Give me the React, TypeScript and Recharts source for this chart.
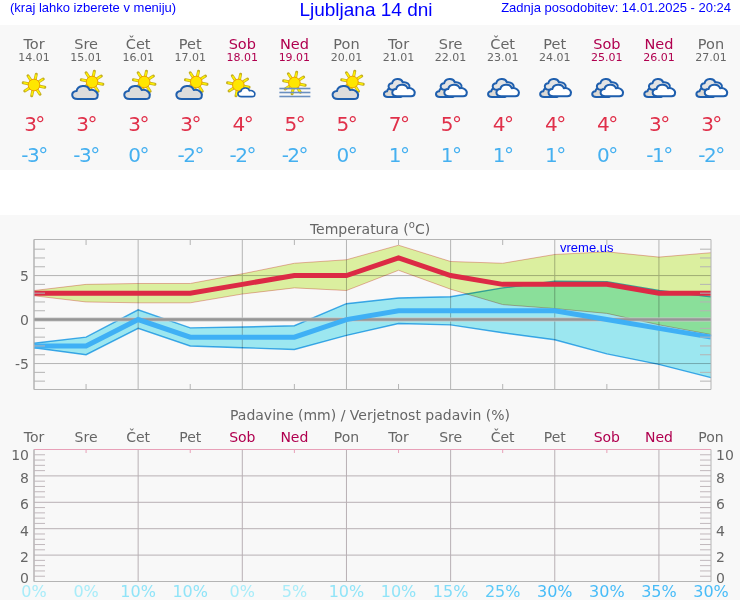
import { Area, CartesianGrid, ComposedChart, LineChart, Line, ReferenceLine, XAxis, YAxis } from 'recharts';

const days = ['Tor', 'Sre', 'Čet', 'Pet', 'Sob', 'Ned', 'Pon', 'Tor', 'Sre', 'Čet', 'Pet', 'Sob', 'Ned', 'Pon'];
const dates = ['14.01', '15.01', '16.01', '17.01', '18.01', '19.01', '20.01', '21.01', '22.01', '23.01', '24.01', '25.01', '26.01', '27.01'];
const icons = ['sun', 'cloudsun', 'cloudsun', 'cloudsun', 'suncloud', 'fog', 'cloudsun', 'clouds', 'clouds', 'clouds', 'clouds', 'clouds', 'clouds', 'clouds'];
const tempMax = [3, 3, 3, 3, 4, 5, 5, 7, 5, 4, 4, 4, 3, 3];
const tempMin = [-3, -3, 0, -2, -2, -2, 0, 1, 1, 1, 1, 0, -1, -2];
const maxHigh = [3.3, 4, 4.1, 4.1, 5.2, 6.4, 6.8, 8.45, 6.6, 6.4, 7.4, 7.7, 7.1, 7.6];
const maxLow = [2.7, 2, 1.9, 1.9, 2.9, 3.6, 3.3, 5.6, 3.45, 1.7, 1.25, 0.7, -0.6, -1.7];
const minHigh = [-2.7, -2, 1.1, -0.95, -0.85, -0.7, 1.8, 2.45, 2.6, 3.6, 4.35, 4.3, 3.3, 2.6];
const minLow = [-3.2, -4, -1, -3, -3.2, -3.4, -1.8, -0.45, -0.6, -1.5, -2.3, -3.9, -5.1, -6.6];
const rain = [0, 0, 0, 0, 0, 0, 0, 0, 0, 0, 0, 0, 0, 0];
const rainChance = [0, 0, 10, 10, 0, 5, 10, 10, 15, 25, 30, 30, 35, 30];

const tempTicks = [-7, -6, -5, -4, -3, -2, -1, 0, 1, 2, 3, 4, 5, 6, 7, 8];
const tempLabels = [-5, 0, 5];
const rainTicks = [0, 0.4, 0.8, 1.2, 1.6, 2, 2.4, 2.8, 3.2, 3.6, 4, 4.4, 4.8, 5.2, 5.6, 6, 6.4, 6.8, 7.2, 7.6, 8, 8.4, 8.8, 9.2, 9.6, 10];
const rainLabels = [0, 2, 4, 6, 8, 10];

const tempData = dates.map((date, i) => ({
  date,
  max: tempMax[i],
  min: tempMin[i],
  maxBand: [maxLow[i], maxHigh[i]],
  minBand: [minLow[i], minHigh[i]],
}));
const rainData = dates.map((date, i) => ({ date, rain: rain[i] }));

const WIDTH = 740;
const HEIGHT = 600;
const FONT = '"DejaVu Sans", sans-serif';
const ARIAL = '"Liberation Sans", Arial, sans-serif';
const GREY = '#666666';
const GRID = '#b4b4b4';
const WEEKEND = '#b0004f';
const RED = '#dc2a45';
const BLUE = '#3fb0f5';

const dayColor = (i: number) => (days[i] === 'Sob' || days[i] === 'Ned' ? WEEKEND : GREY);

const chanceColor = (v: number) => {
  if (v <= 5) return '#a8ecf9';
  if (v <= 10) return '#90e4f8';
  if (v <= 15) return '#80dcf8';
  if (v <= 25) return '#5ccaf8';
  return '#48bcf8';
};

function Sun({ cx, cy, r }: { cx: number; cy: number; r: number }) {
  const rays = [0, 45, 90, 135, 180, 225, 270, 315];
  return (
    <g>
      {rays.map((a) => (
        <line
          key={a}
          x1={cx}
          y1={cy - r}
          x2={cx}
          y2={cy - r * 1.9}
          stroke="#c4ae20"
          strokeWidth={3}
          strokeLinecap="round"
          transform={`rotate(${a + 12} ${cx} ${cy})`}
        />
      ))}
      {rays.map((a) => (
        <line
          key={a}
          x1={cx}
          y1={cy - r}
          x2={cx}
          y2={cy - r * 1.85}
          stroke="#fff200"
          strokeWidth={1.6}
          transform={`rotate(${a + 12} ${cx} ${cy})`}
        />
      ))}
      <circle cx={cx} cy={cy} r={r} fill="#ffe600" stroke="#f0a000" strokeWidth={1} />
    </g>
  );
}

function Cloud({ x, y, scale, fill, width = 2 }: { x: number; y: number; scale: number; fill: string; width?: number }) {
  return (
    <path
      transform={`translate(${x} ${y}) scale(${scale})`}
      d="M-8 7 C-15 7 -15 -1 -9 -1 C-8 -7 2 -8 4 -2 C9 -3 13 1 12 4 C12 6 10 7 8 7 Z"
      fill={fill}
      stroke="#1f5fae"
      strokeWidth={width / scale}
      strokeLinejoin="round"
    />
  );
}

function WeatherIcon({ kind, x }: { kind: string; x: number }) {
  if (kind === 'sun') return <Sun cx={x} cy={85} r={5.8} />;
  if (kind === 'cloudsun') {
    return (
      <g>
        <Sun cx={x + 6} cy={82} r={5.8} />
        <Cloud x={x - 0.5} y={92} scale={1} fill="#dcdcdc" />
      </g>
    );
  }
  if (kind === 'suncloud') {
    return (
      <g>
        <Sun cx={x - 4} cy={85} r={5.8} />
        <Cloud x={x + 4.5} y={92} scale={0.66} fill="#ffffff" width={1.6} />
      </g>
    );
  }
  if (kind === 'fog') {
    return (
      <g>
        <Sun cx={x} cy={83} r={5.8} />
        {[88.5, 92.5, 96.5].map((y) => (
          <line key={y} x1={x - 15} x2={x + 16} y1={y} y2={y} stroke="#6a8fc0" strokeWidth={1.6} />
        ))}
      </g>
    );
  }
  return (
    <g>
      <Cloud x={x - 5} y={92} scale={0.72} fill="#dedad4" />
      <Cloud x={x + 1} y={84} scale={0.82} fill="#e4e4e4" />
      <Cloud x={x + 5.5} y={90} scale={0.88} fill="#ffffff" />
    </g>
  );
}

function HeaderTick(props: any) {
  const { x, index } = props;
  return (
    <g fontFamily={FONT} textAnchor="middle">
      <text x={x} y={48.5} fontSize={14.5} fill={dayColor(index)}>{days[index]}</text>
      <text x={x} y={60.5} fontSize={11} fill={dayColor(index)}>{dates[index]}</text>
      <WeatherIcon kind={icons[index]} x={x} />
      <text x={x} y={131} fontSize={20} letterSpacing={-1.5} fill="#e0304a">{tempMax[index]}°</text>
      <text x={x} y={162} fontSize={20} letterSpacing={-1.5} fill="#45b0f0">{tempMin[index]}°</text>
    </g>
  );
}

function TempLeftTick(props: any) {
  const { y, payload } = props;
  const major = tempLabels.includes(payload.value);
  return (
    <g>
      {!major && <line x1={34} x2={45} y1={y} y2={y} stroke={GRID} />}
      {major && (
        <text x={29} y={y + 5} textAnchor="end" fontFamily={FONT} fontSize={14} fill={GREY}>
          {payload.value}
        </text>
      )}
    </g>
  );
}

function TempRightTick(props: any) {
  const { y, payload } = props;
  if (tempLabels.includes(payload.value)) return <g />;
  return <line x1={700} x2={711} y1={y} y2={y} stroke={GRID} />;
}

function RainLeftTick(props: any) {
  const { y, payload } = props;
  const v = payload.value;
  const dy = v === 10 ? 10.5 : v === 0 ? 1 : 7;
  return (
    <g>
      {v !== 0 && v !== 10 && v % 2 !== 0 && <line x1={34} x2={45} y1={y} y2={y} stroke="#c0b8bc" />}
      {rainLabels.includes(v) && (
        <text x={29} y={y + dy} textAnchor="end" fontFamily={FONT} fontSize={14} fill={GREY}>
          {v}
        </text>
      )}
    </g>
  );
}

function RainRightTick(props: any) {
  const { y, payload } = props;
  const v = payload.value;
  const dy = v === 10 ? 10.5 : v === 0 ? 1 : 7;
  return (
    <g>
      {v !== 0 && v !== 10 && v % 2 !== 0 && <line x1={700} x2={711} y1={y} y2={y} stroke="#c0b8bc" />}
      {rainLabels.includes(v) && (
        <text x={716} y={y + dy} fontFamily={FONT} fontSize={14} fill={GREY}>
          {v}
        </text>
      )}
    </g>
  );
}

const oddTick = (y1: number, y2: number, color: string) => (props: any) => {
  const { x, index } = props;
  if (index % 2 === 0 || index === 13) return <g />;
  return <line x1={x} x2={x} y1={y1} y2={y2} stroke={color} />;
};

function RainTopTick(props: any) {
  const { x, index } = props;
  return (
    <g>
      {index % 2 === 1 && index !== 13 && <line x1={x} x2={x} y1={450} y2={453} stroke="#e8a0b8" />}
      <text x={x} y={442} textAnchor="middle" fontFamily={FONT} fontSize={14} fill={dayColor(index)}>
        {days[index]}
      </text>
    </g>
  );
}

function RainBottomTick(props: any) {
  const { x, index } = props;
  const v = rainChance[index];
  return (
    <text x={x} y={597} textAnchor="middle" fontFamily={FONT} fontSize={16} fill={chanceColor(v)}>
      {v}%
    </text>
  );
}

const blend = { mixBlendMode: 'multiply' as const };

export default function App() {
  return (
    <div style={{ position: 'absolute', left: 0, top: 0, width: WIDTH, height: HEIGHT, background: '#ffffff', overflow: 'hidden' }}>
      <div style={{ position: 'absolute', left: 0, top: 25, width: WIDTH, height: 145, background: '#f8f8f8' }} />
      <div style={{ position: 'absolute', left: 0, top: 215, width: WIDTH, height: 385, background: '#f8f8f8' }} />

      <div style={{ position: 'absolute', left: 10, top: 0, fontFamily: ARIAL, fontSize: 13, lineHeight: '15px', color: '#0000ff', whiteSpace: 'nowrap' }}>
        (kraj lahko izberete v meniju)
      </div>
      <div style={{ position: 'absolute', left: 0, width: 732, top: -1, textAlign: 'center', fontFamily: ARIAL, fontSize: 19, lineHeight: '21px', color: '#0000ff', whiteSpace: 'nowrap' }}>
        Ljubljana 14 dni
      </div>
      <div style={{ position: 'absolute', right: 9, top: 0, fontFamily: ARIAL, fontSize: 13, lineHeight: '15px', color: '#0000ff', whiteSpace: 'nowrap' }}>
        Zadnja posodobitev: 14.01.2025 - 20:24
      </div>
      <div style={{ position: 'absolute', left: 0, width: 740, top: 220, textAlign: 'center', fontFamily: FONT, fontSize: 14, lineHeight: '18px', color: GREY, whiteSpace: 'nowrap' }}>
        Temperatura (<sup style={{ fontSize: 10, lineHeight: 0 }}>o</sup>C)
      </div>
      <div style={{ position: 'absolute', left: 0, width: 740, top: 406, textAlign: 'center', fontFamily: FONT, fontSize: 14, lineHeight: '18px', color: GREY, whiteSpace: 'nowrap' }}>
        Padavine (mm) / Verjetnost padavin (%)
      </div>

      <div style={{ position: 'absolute', left: 0, top: 0 }}>
        <LineChart width={WIDTH} height={HEIGHT} data={tempData} margin={{ top: 0, right: 29, bottom: 429, left: 34 }}>
          <XAxis dataKey="date" scale="point" height={1} axisLine={false} tickLine={false} tick={HeaderTick} interval={0} />
          <YAxis hide />
          <Line dataKey="max" stroke="none" dot={false} isAnimationActive={false} />
        </LineChart>
      </div>

      <div style={{ position: 'absolute', left: 0, top: 0 }}>
        <ComposedChart width={WIDTH} height={HEIGHT} data={tempData} margin={{ top: 238.5, right: 0, bottom: 209.5, left: 0 }}>
          <Area dataKey="maxBand" fill="#e2f6a4" fillOpacity={1} stroke="#f0b4b0" strokeWidth={1} dot={false} activeDot={false} isAnimationActive={false} style={blend} />
          <Area dataKey="minBand" fill="#a1eef7" fillOpacity={1} stroke="#45b0f0" strokeWidth={1.4} dot={false} activeDot={false} isAnimationActive={false} style={blend} />
          <CartesianGrid
            stroke={GRID}
            verticalValues={dates.filter((_, i) => i % 2 === 0)}
            horizontalValues={tempLabels}
          />
          <XAxis dataKey="date" scale="point" height={1} stroke={GRID} tickLine={false} tick={oddTick(384, 389, GRID)} interval={0} />
          <XAxis xAxisId="top" orientation="top" dataKey="date" scale="point" height={1} stroke={GRID} tickLine={false} tick={oddTick(240, 245, GRID)} interval={0} />
          <YAxis width={34} domain={[-7.95, 9.1]} ticks={tempTicks} stroke={GRID} tickLine={false} tick={TempLeftTick} interval={0} />
          <YAxis yAxisId="right" orientation="right" width={29} domain={[-7.95, 9.1]} ticks={tempTicks} stroke={GRID} tickLine={false} tick={TempRightTick} interval={0} />
          <ReferenceLine y={0} stroke="#c8c8c8" strokeWidth={4} />
          <ReferenceLine y={0} stroke="#969696" strokeWidth={2.4} />
          <Line dataKey="min" stroke={BLUE} strokeWidth={5} dot={false} activeDot={false} isAnimationActive={false} />
          <Line dataKey="max" stroke={RED} strokeWidth={5} dot={false} activeDot={false} isAnimationActive={false} />
          <Line xAxisId="top" yAxisId="right" dataKey="max" stroke="none" dot={false} activeDot={false} isAnimationActive={false} />
        </ComposedChart>
      </div>

      <div style={{ position: 'absolute', left: 560, top: 240, fontFamily: ARIAL, fontSize: 13, lineHeight: '15px', color: '#0000ff', whiteSpace: 'nowrap' }}>
        vreme.us
      </div>

      <div style={{ position: 'absolute', left: 0, top: 0 }}>
        <ComposedChart width={WIDTH} height={HEIGHT} data={rainData} margin={{ top: 448.5, right: 0, bottom: 17.5, left: 0 }}>
          <CartesianGrid
            stroke="#b8b0b4"
            verticalValues={dates.filter((_, i) => i % 2 === 0)}
            horizontalValues={[2, 4, 6, 8]}
          />
          <XAxis dataKey="date" scale="point" height={1} stroke={GRID} tickLine={false} tick={RainBottomTick} interval={0} />
          <XAxis xAxisId="top" orientation="top" dataKey="date" scale="point" height={1} stroke="#e8a0b8" tickLine={false} tick={RainTopTick} interval={0} />
          <YAxis width={34} domain={[0, 10]} ticks={rainTicks} stroke={GRID} tickLine={false} tick={RainLeftTick} interval={0} />
          <YAxis yAxisId="right" orientation="right" width={29} domain={[0, 10]} ticks={rainTicks} stroke={GRID} tickLine={false} tick={RainRightTick} interval={0} />
          <Line dataKey="rain" stroke="none" dot={false} activeDot={false} isAnimationActive={false} />
          <Line xAxisId="top" yAxisId="right" dataKey="rain" stroke="none" dot={false} activeDot={false} isAnimationActive={false} />
        </ComposedChart>
      </div>
    </div>
  );
}
